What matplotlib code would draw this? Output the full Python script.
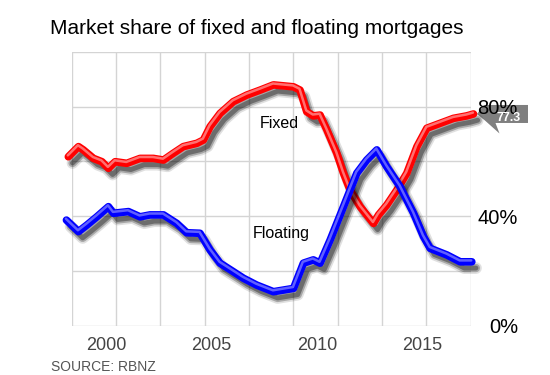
import numpy as np
import matplotlib
matplotlib.use('Agg')
import matplotlib.pyplot as plt
import matplotlib.patheffects as pe
import matplotlib.transforms as mtransforms
from matplotlib.patches import Polygon

plt.rcParams['font.family'] = ['Liberation Sans', 'DejaVu Sans']

# Fixed-rate share (%)
fixed_years = [1998.21, 1998.69, 1998.92, 1999.40, 1999.80, 2000.11, 2000.43, 2000.98,
               2001.61, 2002.24, 2002.72, 2003.19, 2003.66, 2004.30, 2004.61, 2004.93,
               2005.40, 2006.03, 2006.67, 2007.30, 2007.93, 2008.88, 2009.19, 2009.51,
               2009.82, 2010.14, 2010.46, 2010.93, 2011.25, 2011.56, 2012.04, 2012.67,
               2012.91, 2013.30, 2013.78, 2014.25, 2014.73, 2015.20, 2015.83, 2016.46,
               2017.09, 2017.41]
fixed_share = [61.7, 65.4, 64.2, 61.1, 59.9, 57.5, 59.9, 59.3,
               61.1, 61.1, 60.5, 63.0, 65.4, 66.6, 67.8, 72.7,
               77.5, 81.8, 84.2, 86.0, 87.9, 87.2, 86.0, 78.1,
               76.6, 76.9, 71.5, 63.0, 55.7, 49.6, 43.5, 37.4,
               40.5, 44.1, 49.6, 55.7, 65.4, 72.1, 73.9, 75.7,
               76.6, 77.3]

# Floating-rate share (%)
float_years = [1998.12, 1998.69, 1999.09, 1999.56, 2000.11, 2000.35, 2001.06, 2001.61,
               2002.08, 2002.72, 2003.35, 2003.82, 2004.45, 2004.93, 2005.40, 2006.03,
               2006.51, 2007.14, 2007.93, 2008.88, 2009.35, 2009.82, 2010.14, 2010.62,
               2011.25, 2011.88, 2012.35, 2012.83, 2013.30, 2013.93, 2014.57, 2015.04,
               2015.36, 2016.15, 2016.78, 2017.33]
float_share = [38.6, 34.4, 36.8, 39.8, 43.5, 41.1, 41.7, 39.8,
               40.5, 40.5, 37.4, 34.0, 33.8, 27.7, 22.9, 19.8,
               17.4, 14.9, 12.5, 13.7, 22.9, 24.1, 22.9, 31.4,
               43.5, 55.7, 60.5, 64.2, 58.1, 50.8, 41.1, 32.6,
               28.3, 25.9, 23.4, 23.4]

year_ticks = [2000, 2005, 2010, 2015]
pct_ticks = [0, 40, 80]
last_value = '77.3'

fig = plt.figure(figsize=(5.5, 3.75), dpi=100)
ax = fig.add_axes([0.1304, 0.1307, 0.7255, 0.7314])

xmin, xmax = 1998.37, 2017.28
ax.set_xlim(xmin, xmax)
ax.set_ylim(0, 100)

# grid
grid_col = '#d4d4d4'
for gx in np.linspace(xmin, xmax, 10):
    ax.axvline(gx, color=grid_col, lw=1, zorder=0)
for gy in range(0, 101, 20):
    ax.axhline(gy, color=grid_col, lw=1, zorder=0)
for s in ax.spines.values():
    s.set_visible(False)

# thick "tube" line with a soft drop shadow
def tube(color, hi):
    return [pe.SimpleLineShadow(offset=(3.0, -4.5), shadow_color='black', alpha=0.12, linewidth=8.5),
            pe.SimpleLineShadow(offset=(3.0, -4.5), shadow_color='black', alpha=0.25, linewidth=6),
            pe.SimpleLineShadow(offset=(3.0, -4.5), shadow_color='black', alpha=0.35, linewidth=3.5),
            pe.Stroke(linewidth=5.5, foreground=color),
            pe.Stroke(linewidth=1.8, foreground=hi, offset=(-0.4, 1.0)),
            ]

ax.plot(fixed_years, fixed_share, color='#ff0000', lw=5, solid_capstyle='round',
        solid_joinstyle='round', clip_on=False, zorder=3,
        path_effects=tube('#ff0000', '#ff7070'))
ax.plot(float_years, float_share, color='#0000ff', lw=5, solid_capstyle='round',
        solid_joinstyle='round', clip_on=False, zorder=3,
        path_effects=tube('#0000ff', '#6060ff'))

ax.text(2007.27, 74.0, 'Fixed', fontsize=11.5, ha='left', va='center', zorder=5)
ax.text(2006.97, 33.9, 'Floating', fontsize=11.5, ha='left', va='center', zorder=5)

ax.set_xticks(year_ticks)
ax.set_xticklabels([str(y) for y in year_ticks], fontsize=13, color='#444444')
ax.yaxis.tick_right()
ax.set_yticks(pct_ticks)
ax.set_yticklabels(['%d%%' % p for p in pct_ticks], fontsize=14.5, color='black', ha='right')
ax.tick_params(axis='x', length=0, pad=8)
ax.tick_params(axis='y', length=0, pad=34)

# value flag at the last point (behind the tick labels)
trans = fig.dpi_scale_trans + mtransforms.ScaledTranslation(fixed_years[-1], fixed_share[-1], ax.transData)
flag = Polygon(np.array([(3.5, 0), (10.5, 9), (54.5, 9), (54.5, -9), (22, -9),
                         (26, -19.5), (12, -7)]) / 100.0,
               closed=True, transform=trans, facecolor='#7f7f7f', edgecolor='none',
               clip_on=False, zorder=1)
ax.add_patch(flag)
ax.annotate(last_value, (fixed_years[-1], fixed_share[-1]), xytext=(25.5, -3),
            textcoords='offset points', color='white', fontsize=9, fontweight='bold',
            ha='center', va='center', annotation_clip=False, zorder=6)

fig.text(0.4667, 0.925, 'Market share of fixed and floating mortgages', fontsize=15,
         ha='center', va='center')
fig.text(0.092, 0.022, 'SOURCE: RBNZ', fontsize=10, color='#555555', ha='left', va='center')

fig.savefig('out.png', dpi=100)
plt.close()
